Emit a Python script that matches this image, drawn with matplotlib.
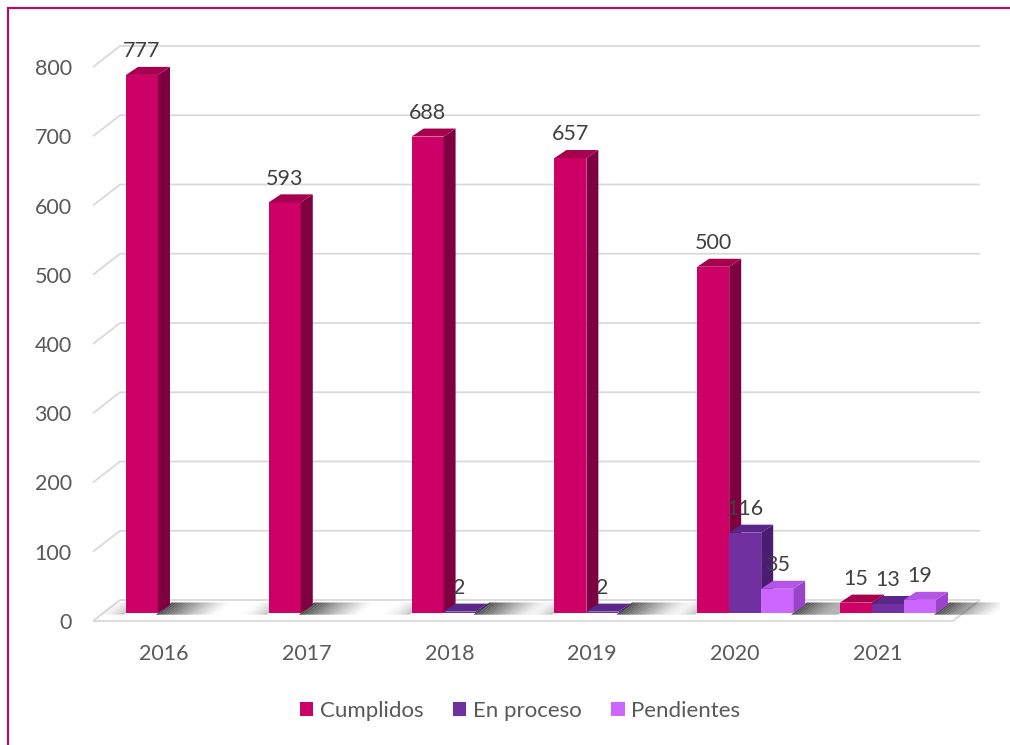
import matplotlib
matplotlib.use('Agg')
import matplotlib.pyplot as plt
from matplotlib.patches import Polygon, Patch
from matplotlib.lines import Line2D
import numpy as np

# ---------------- data ----------------
years = ['2016', '2017', '2018', '2019', '2020', '2021']
series_names = ['Cumplidos', 'En proceso', 'Pendientes']
cumplidos = [777, 593, 688, 657, 500, 15]
en_proceso = [None, None, 2, 2, 116, 13]
pendientes = [None, None, None, None, 35, 19]
y_ticks = [0, 100, 200, 300, 400, 500, 600, 700, 800]

# ---------------- style ----------------
front_colors = ['#CC0066', '#7030A0', '#CC66FF']
top_colors = ['#A6004F', '#5B2689', '#B455E6']
side_colors = ['#7F0041', '#4A1D70', '#9A45C9']
text_color = '#595959'
grid_color = '#D9D9D9'
border_color = '#CC0066'

plt.rcParams['font.family'] = ['Lato', 'DejaVu Sans']

W_PX, H_PX = 1010, 745
fig = plt.figure(figsize=(W_PX / 100, H_PX / 100), dpi=100)

PX_CAT = 142.8      # pixels per category
PX_VAL = 0.6925     # pixels per value unit
X0_PX = 163.7       # pixel of category 0 (front plane)
Y0_PX = 621.0       # pixel of value 0 (front plane)

ax_l, ax_r, ax_t, ax_b = 80, 1000, 20, 640
ax = fig.add_axes([ax_l / W_PX, 1 - ax_b / H_PX, (ax_r - ax_l) / W_PX, (ax_b - ax_t) / H_PX])
ax.set_xlim((ax_l - X0_PX) / PX_CAT, (ax_r - X0_PX) / PX_CAT)
ax.set_ylim((Y0_PX - ax_b) / PX_VAL, (Y0_PX - ax_t) / PX_VAL)

DX = 27 / PX_CAT     # full depth shift in category units
DY = 21 / PX_VAL     # full depth shift in value units
D0, D1 = 8 / 21, 16 / 21   # bar depth range
BW = 32 / PX_CAT      # bar width
BAR_DX = 12 / PX_CAT  # horizontal depth shift of bar side/top faces

def proj(x, v, d):
    return (x + d * DX, v + d * DY)

def bar_back(x, v):
    bx, by = proj(x, v, D1)
    fx, _ = proj(x, v, D0)
    return (fx + BAR_DX, by)

floor_l = (93 - X0_PX) / PX_CAT
floor_r = (953 - X0_PX) / PX_CAT

# back wall gridlines + side diagonals
for v in y_ticks[1:]:
    a = proj(floor_l, v, 0)
    b = proj(floor_l, v, 1)
    c = proj(floor_r, v, 1)
    ax.plot([a[0], b[0], c[0]], [a[1], b[1], c[1]], color=grid_color, lw=1.3,
            solid_capstyle='butt', zorder=1)

# floor
floor_pts = [proj(floor_l, 0, 0), proj(floor_r, 0, 0), proj(floor_r, 0, 1), proj(floor_l, 0, 1)]
ax.add_patch(Polygon(floor_pts, closed=True, facecolor='white', edgecolor=grid_color,
                     lw=1.3, zorder=1))

series = [cumplidos, en_proceso, pendientes]

# shadows on the floor
for i in range(len(years)):
    nbars = max(j + 1 for j in range(3) if series[j][i] is not None)
    xl = i - 1.5 * BW
    xr = i + (nbars - 1.5) * BW
    ext = 60 / PX_CAT
    n = 20
    for k in range(n):
        s0, s1 = k / n, (k + 1) / n
        xa, xb = xr + s0 * ext, xr + s1 * ext
        pts = [proj(xa, 0, D0 - 0.08), proj(xb, 0, D0 - 0.08), proj(xb, 0, D1 + 0.12), proj(xa, 0, D1 + 0.12)]
        ax.add_patch(Polygon(pts, closed=True, facecolor='#202020', edgecolor='none',
                             alpha=0.8 * (1 - s0) ** 1.3, zorder=2))
    extl = 30 / PX_CAT
    for k in range(n):
        s0, s1 = k / n, (k + 1) / n
        xa, xb = xl - s1 * extl, xl - s0 * extl
        pts = [proj(xa, 0, D0 - 0.08), proj(xb, 0, D0 - 0.08), proj(xb, 0, D1 + 0.12), proj(xa, 0, D1 + 0.12)]
        ax.add_patch(Polygon(pts, closed=True, facecolor='#505050', edgecolor='none',
                             alpha=0.35 * (1 - s0) ** 2, zorder=2))

# bars
for i in range(len(years)):
    for j in range(3):
        v = series[j][i]
        if v is None:
            continue
        xl = i + (j - 1.5) * BW
        xr = xl + BW
        fx, fy = proj(xl, 0, D0)
        ax.bar(fx, v, width=BW, bottom=fy, align='edge', color=front_colors[j],
               edgecolor='none', zorder=3)
        side = [proj(xr, 0, D0), proj(xr, v, D0), bar_back(xr, v), bar_back(xr, 0)]
        ax.add_patch(Polygon(side, closed=True, facecolor=side_colors[j], edgecolor='none', zorder=3))
        top = [proj(xl, v, D0), proj(xr, v, D0), bar_back(xr, v), bar_back(xl, v)]
        ax.add_patch(Polygon(top, closed=True, facecolor=top_colors[j], edgecolor='none', zorder=3))
        lx, ly = proj(xl + BW / 2, v, D0)
        ax.annotate(str(v), (lx, ly), xytext=(0, 17), textcoords='offset points',
                    ha='center', va='center', fontsize=15.5, color='#404040', zorder=5)

# axes text
ax.set_xticks(range(len(years)))
ax.set_xticklabels(years)
ax.set_yticks(y_ticks)
ax.set_yticklabels([str(t) for t in y_ticks])
ax.tick_params(axis='both', length=0, labelsize=15.5, labelcolor=text_color)
ax.tick_params(axis='y', pad=6)
ax.tick_params(axis='x', pad=3)
for sp in ax.spines.values():
    sp.set_visible(False)
ax.set_facecolor('none')

# legend
handles = [Patch(facecolor=c, edgecolor='none') for c in front_colors]
leg = fig.legend(handles, series_names, loc='center', bbox_to_anchor=(520 / W_PX, 1 - 711 / H_PX),
                 ncol=3, frameon=False, fontsize=16, handlelength=0.62, handleheight=0.62,
                 handletextpad=0.3, columnspacing=1.3)
for t in leg.get_texts():
    t.set_color(text_color)

# border (left and top)
fig.add_artist(Line2D([8 / W_PX, 8 / W_PX], [0, 1 - 8 / H_PX], color=border_color, lw=1.5))
fig.add_artist(Line2D([8 / W_PX, 1], [1 - 8 / H_PX, 1 - 8 / H_PX], color=border_color, lw=1.5))

fig.savefig('out.png', dpi=100)
